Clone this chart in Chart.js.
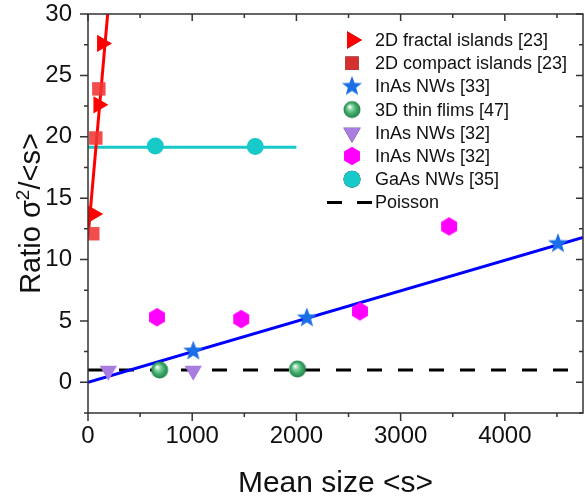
<!DOCTYPE html>
<html>
<head>
<meta charset="utf-8">
<script src="https://cdn.jsdelivr.net/npm/chart.js@4.4.1/dist/chart.umd.min.js"></script>
<style>
  html, body { margin: 0; padding: 0; background: #fff; }
  #wrap { width: 585px; height: 496px; position: relative; }
</style>
</head>
<body>
<div id="wrap"><canvas id="plot"></canvas></div>
<script>
// data
const fractalX = [50, 100, 135];
const fractalY = [13.7, 22.6, 27.6];
const compactX = [46, 75, 104];
const compactY = [12.1, 19.9, 23.9];
const inas33X = [1010, 2100, 4510];
const inas33Y = [2.55, 5.25, 11.3];
const filmX = [687, 2010];
const filmY = [1.0, 1.08];
const inas32aX = [195, 1010];
const inas32aY = [0.95, 0.95];
const inas32bX = [662, 1470, 2610, 3465];
const inas32bY = [5.3, 5.15, 5.78, 12.7];
const gaasX = [646, 1605];
const gaasY = [19.25, 19.2];

// fitted lines (end points)
const redFitX = [0, 195];
const redFitY = [11.8, 30.6];
const blueFitX = [0, 4750];
const blueFitY = [0, 11.8];
const cyanFitX = [0, 2000];
const cyanFitY = [19.15, 19.15];
const poissonX = [0, 4750];
const poissonY = [1, 1];

// axis ticks
const xTickValues = [0, 1000, 2000, 3000, 4000];
const yTickValues = [0, 5, 10, 15, 20, 25, 30];

const legendLabels = ['2D fractal islands [23]', '2D compact islands [23]', 'InAs NWs [33]',
  '3D thin flims [47]', 'InAs NWs [32]', 'InAs NWs [32]', 'GaAs NWs [35]', 'Poisson'];

const FONT = '"Liberation Sans", Arial, sans-serif';

function pts(xs, ys) { return xs.map((x, i) => ({ x: x, y: ys[i] })); }

function makeCanvas(size, draw) {
  const c = document.createElement('canvas');
  c.width = size; c.height = size;
  draw(c.getContext('2d'), size / 2);
  return c;
}

const starImg = makeCanvas(24, (g, c) => {
  g.beginPath();
  for (let i = 0; i < 10; i++) {
    const r = i % 2 ? 4.4 : 10.5;
    const a = -Math.PI / 2 + i * Math.PI / 5;
    g.lineTo(c + r * Math.cos(a), c + r * Math.sin(a));
  }
  g.closePath();
  g.fillStyle = '#1b6ee8';
  g.fill();
});

const hexImg = makeCanvas(22, (g, c) => {
  g.beginPath();
  for (let i = 0; i < 6; i++) {
    const a = -Math.PI / 2 + i * Math.PI / 3;
    g.lineTo(c + 9.2 * Math.cos(a), c + 9.2 * Math.sin(a));
  }
  g.closePath();
  g.fillStyle = '#ff00ff';
  g.fill();
});

const ballImg = makeCanvas(20, (g, c) => {
  const gr = g.createRadialGradient(c - 2.5, c - 3, 0.5, c, c, 8.5);
  gr.addColorStop(0, '#ffffff');
  gr.addColorStop(0.25, '#8ed8a8');
  gr.addColorStop(0.6, '#40ad6c');
  gr.addColorStop(1, '#24804b');
  g.fillStyle = gr;
  g.beginPath();
  g.arc(c, c, 8.5, 0, Math.PI * 2);
  g.fill();
});

function scatterSet(label, data, style, color, radius, rotation) {
  return {
    label: label,
    data: data,
    pointStyle: style,
    pointRadius: radius,
    pointHoverRadius: radius,
    pointRotation: rotation || 0,
    pointBackgroundColor: color,
    pointBorderWidth: 0,
    showLine: false
  };
}

function lineSet(data, color, dash) {
  return {
    data: data,
    showLine: true,
    borderColor: color,
    borderWidth: 3,
    borderDash: dash || [],
    pointRadius: 0,
    pointHoverRadius: 0,
    fill: false
  };
}

const datasets = [
  scatterSet(legendLabels[0], pts(fractalX, fractalY), 'triangle', '#ff0000', 10, 90),
  scatterSet(legendLabels[1], pts(compactX, compactY), 'rect', 'rgba(240,52,52,0.88)', 9.5),
  scatterSet(legendLabels[2], pts(inas33X, inas33Y), starImg, '#1b6ee8', 10),
  scatterSet(legendLabels[3], pts(filmX, filmY), ballImg, '#3ba666', 9),
  scatterSet(legendLabels[4], pts(inas32aX, inas32aY), 'triangle', '#a97ce0', 10, 180),
  scatterSet(legendLabels[5], pts(inas32bX, inas32bY), hexImg, '#ff00ff', 10),
  scatterSet(legendLabels[6], pts(gaasX, gaasY), 'circle', '#17c9c9', 8.5),
  lineSet(pts(redFitX, redFitY), '#ff0000'),
  lineSet(pts(blueFitX, blueFitY), '#0000ff'),
  lineSet(pts(cyanFitX, cyanFitY), '#17c9c9'),
  lineSet(pts(poissonX, poissonY), '#000000', [15, 16])
];

// frame with inward ticks on top/right, outward on bottom/left
const frameTicks = {
  id: 'frameTicks',
  afterDatasetsDraw(chart) {
    const { ctx, chartArea: a, scales: { x, y } } = chart;
    ctx.save();
    ctx.strokeStyle = '#333';
    ctx.lineWidth = 1.5;
    ctx.strokeRect(a.left, a.top, a.right - a.left, a.bottom - a.top);
    ctx.beginPath();
    x.ticks.forEach(t => {
      const px = x.getPixelForValue(t.value);
      ctx.moveTo(px, a.bottom); ctx.lineTo(px, a.bottom + 8);
      ctx.moveTo(px, a.top); ctx.lineTo(px, a.top + 7);
      const mv = t.value + 500;
      if (mv <= x.max) {
        const pm = x.getPixelForValue(mv);
        ctx.moveTo(pm, a.bottom); ctx.lineTo(pm, a.bottom + 4);
        ctx.moveTo(pm, a.top); ctx.lineTo(pm, a.top + 4);
      }
    });
    y.ticks.forEach(t => {
      const py = y.getPixelForValue(t.value);
      ctx.moveTo(a.left, py); ctx.lineTo(a.left - 8, py);
      ctx.moveTo(a.right, py); ctx.lineTo(a.right - 7, py);
      const mv = t.value - 2.5;
      if (mv >= y.min) {
        const pm = y.getPixelForValue(mv);
        ctx.moveTo(a.left, pm); ctx.lineTo(a.left - 4, pm);
        ctx.moveTo(a.right, pm); ctx.lineTo(a.right - 4, pm);
      }
    });
    ctx.stroke();
    ctx.restore();
  }
};

// y title with a real superscript
const yTitle = {
  id: 'yTitle',
  afterDraw(chart) {
    const { ctx, chartArea: a } = chart;
    const parts = [
      { t: 'Ratio \u03c3', size: 29, dy: 0 },
      { t: '2', size: 19, dy: -11 },
      { t: '/<s>', size: 29, dy: 0 }
    ];
    ctx.save();
    let total = 0;
    parts.forEach(p => { ctx.font = p.size + 'px ' + FONT; p.w = ctx.measureText(p.t).width; total += p.w; });
    ctx.translate(40, (a.top + a.bottom) / 2);
    ctx.rotate(-Math.PI / 2);
    ctx.fillStyle = '#111';
    ctx.textBaseline = 'alphabetic';
    let cx = -total / 2;
    parts.forEach(p => {
      ctx.font = p.size + 'px ' + FONT;
      ctx.fillText(p.t, cx, p.dy);
      cx += p.w;
    });
    ctx.restore();
  }
};

// legend drawn inside the plot area
const insideLegend = {
  id: 'insideLegend',
  afterDraw(chart) {
    const ctx = chart.ctx;
    const mx = 352, tx = 375, y0 = 40, dy = 23.2;
    ctx.save();
    legendLabels.forEach((label, i) => {
      const cy = y0 + i * dy;
      const ds = chart.data.datasets[i];
      if (i < 7) {
        const style = ds.pointStyle;
        if (style instanceof HTMLCanvasElement) {
          ctx.drawImage(style, mx - style.width / 2, cy - style.height / 2);
        } else {
          Chart.helpers.drawPoint(ctx, {
            pointStyle: style, radius: ds.pointRadius, rotation: ds.pointRotation, borderWidth: 0
          }, mx, cy);
          ctx.fillStyle = ds.pointBackgroundColor;
          ctx.fill();
        }
      } else {
        ctx.strokeStyle = '#000';
        ctx.lineWidth = 3;
        ctx.beginPath();
        ctx.moveTo(327, cy); ctx.lineTo(342, cy);
        ctx.moveTo(357, cy); ctx.lineTo(372, cy);
        ctx.stroke();
      }
      ctx.fillStyle = '#111';
      ctx.font = '18px ' + FONT;
      ctx.textBaseline = 'middle';
      ctx.fillText(label, tx, cy + 1);
    });
    ctx.restore();
  }
};

new Chart(document.getElementById('plot').getContext('2d'), {
  type: 'scatter',
  data: { datasets: datasets },
  plugins: [frameTicks, yTitle, insideLegend],
  options: {
    responsive: true,
    maintainAspectRatio: false,
    animation: false,
    layout: { autoPadding: false, padding: { top: 14, right: 2, left: 0, bottom: 0 } },
    plugins: { legend: { display: false }, tooltip: { enabled: false } },
    scales: {
      x: {
        type: 'linear',
        min: 0,
        max: 4750,
        afterBuildTicks(s) { s.ticks = xTickValues.map(v => ({ value: v })); },
        ticks: { maxRotation: 0, padding: 1, autoSkip: false, callback: v => String(v),
          color: '#111', font: { family: FONT, size: 24 } },
        grid: { display: false, drawTicks: true, tickLength: 8 },
        border: { display: false },
        title: { display: true, text: 'Mean size <s>', color: '#111',
          font: { family: FONT, size: 30 }, padding: { top: 0, bottom: -6 } },
        afterFit(s) { s.height = 83; s.paddingLeft = 0; s.paddingRight = 0; }
      },
      y: {
        type: 'linear',
        min: -2.5,
        max: 30,
        afterBuildTicks(s) { s.ticks = yTickValues.map(v => ({ value: v })); },
        ticks: { padding: 8, autoSkip: false, callback: v => String(v),
          color: '#111', font: { family: FONT, size: 24 } },
        grid: { display: false, drawTicks: true, tickLength: 8 },
        border: { display: false },
        afterFit(s) { s.width = 88; s.paddingTop = 0; s.paddingBottom = 0; }
      }
    }
  }
});
</script>
</body>
</html>
